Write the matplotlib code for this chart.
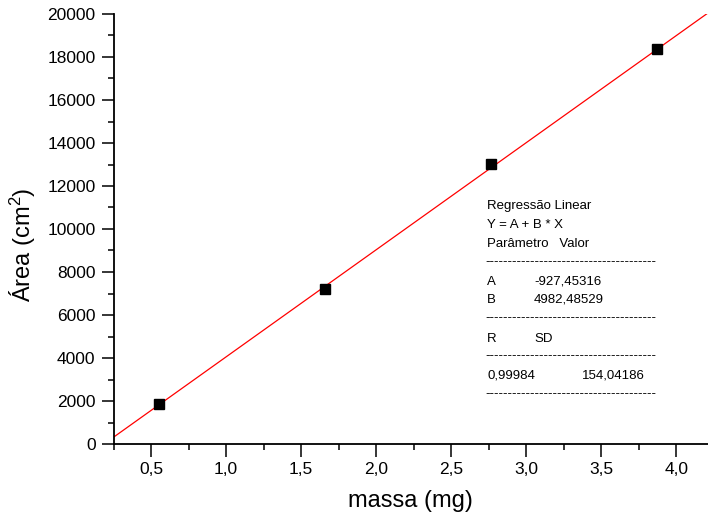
import numpy as np
import matplotlib
matplotlib.use("Agg")
import matplotlib.pyplot as plt
from matplotlib.ticker import MultipleLocator, FuncFormatter

plt.rcParams['font.family'] = ['Liberation Sans', 'DejaVu Sans']
plt.rcParams['mathtext.fontset'] = 'custom'
plt.rcParams['mathtext.rm'] = 'Liberation Sans'
plt.rcParams['mathtext.it'] = 'Liberation Sans:italic'

# dados (massa x area)
massa = [0.553, 1.659, 2.766, 3.873]
area = [1860, 7209, 13023, 18372]

# parametros da regressao
A = -927.45316
B = 4982.48529
R = 0.99984
SD = 154.04186

def virgula(v, pos):
    return f'{v:.1f}'.replace('.', ',')

fig = plt.figure(figsize=(7.08, 5.18), dpi=100)
ax = fig.add_axes([113.6/708, 74/518, 594.4/708, 430/518])

xl = np.array([0.25, 4.21])
ax.plot(xl, A + B*xl, color='red', lw=0.9, zorder=2)
ax.plot(massa, area, 's', color='black', ms=7.5, zorder=3)

ax.set_xlim(0.25, 4.21)
ax.set_ylim(0, 20000)
ax.xaxis.set_major_locator(MultipleLocator(0.5))
ax.xaxis.set_minor_locator(MultipleLocator(0.25))
ax.yaxis.set_major_locator(MultipleLocator(2000))
ax.yaxis.set_minor_locator(MultipleLocator(1000))
ax.xaxis.set_major_formatter(FuncFormatter(virgula))

for s in ['top', 'right']:
    ax.spines[s].set_visible(False)
for s in ['left', 'bottom']:
    ax.spines[s].set_linewidth(1.3)
ax.tick_params(which='major', direction='out', length=9, width=1.1, labelsize=12.5, pad=4)
ax.tick_params(which='minor', direction='out', length=4.5, width=1.1)
ax.tick_params(axis='x', pad=4)

ax.set_xlabel('massa (mg)', fontsize=17, labelpad=9)
ax.set_ylabel('Área (cm$^2$)', fontsize=17)
ax.yaxis.set_label_coords((38 - 113.6)/594.4, (444 - 245)/430)

# caixa de texto da regressao (posicoes em pixels -> fracao do eixo)
def px(x, y):
    return ((x - 113.6)/594.4, (444 - y)/430)

dash = '-' * 38
kw = dict(transform=ax.transAxes, fontsize=9.5, va='baseline', ha='left')
ax.text(*px(487, 209), 'Regressão Linear', **kw)
ax.text(*px(487, 228), 'Y = A + B * X', **kw)
ax.text(*px(487, 247), 'Parâmetro   Valor', **kw)
ax.text(*px(485, 265), dash, **kw)
ax.text(*px(487, 285), 'A', **kw)
ax.text(*px(534, 285), f'{A:.5f}'.replace('.', ','), **kw)
ax.text(*px(487, 303), 'B', **kw)
ax.text(*px(534, 303), f'{B:.5f}'.replace('.', ','), **kw)
ax.text(*px(485, 321), dash, **kw)
ax.text(*px(487, 342), 'R', **kw)
ax.text(*px(534, 342), 'SD', **kw)
ax.text(*px(485, 359), dash, **kw)
ax.text(*px(487, 379), f'{R:.5f}'.replace('.', ','), **kw)
ax.text(*px(582, 379), f'{SD:.5f}'.replace('.', ','), **kw)
ax.text(*px(485, 397), dash, **kw)

fig.savefig('out.png', dpi=100)
